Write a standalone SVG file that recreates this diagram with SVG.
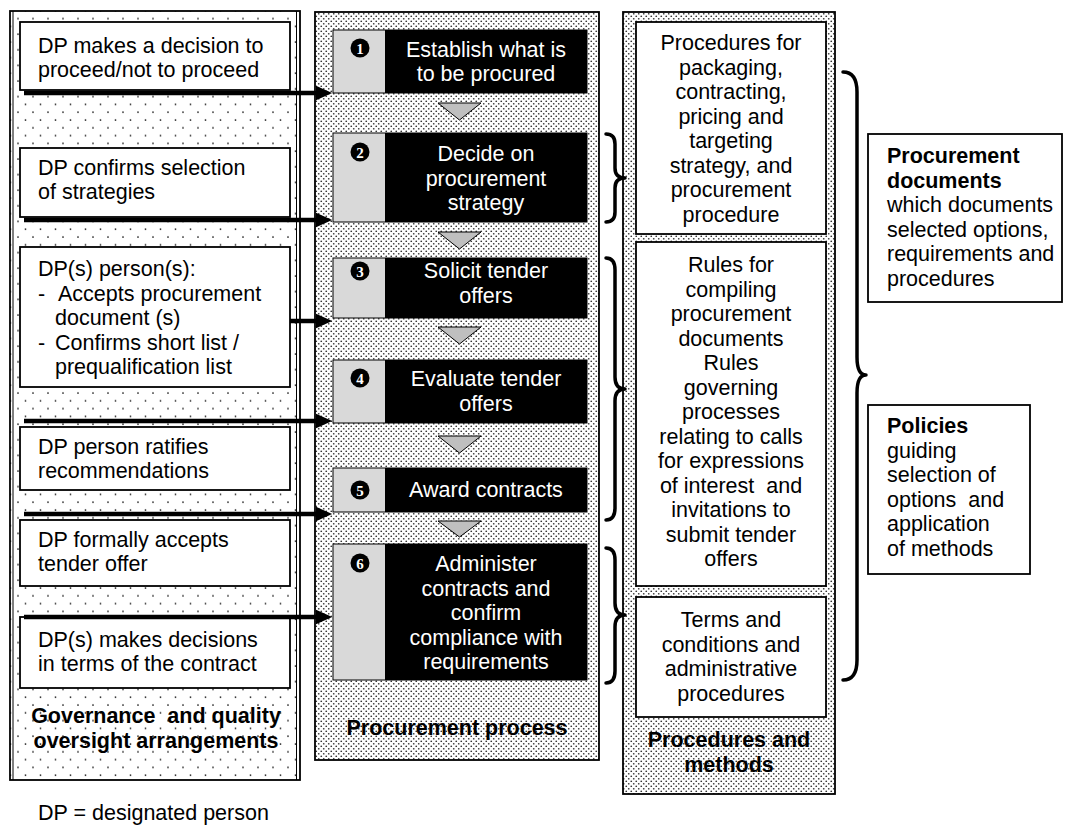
<svg xmlns="http://www.w3.org/2000/svg" width="1072" height="826" viewBox="0 0 1072 826">
<defs>
<pattern id="sparse" width="15" height="15.6" patternUnits="userSpaceOnUse">
<rect width="15" height="15.6" fill="#fff"/>
<circle cx="3" cy="3" r="0.9" fill="#222"/>
<circle cx="10.5" cy="10.8" r="0.9" fill="#222"/>
</pattern>
<pattern id="dense" width="5" height="5" patternUnits="userSpaceOnUse">
<rect width="5" height="5" fill="#fff"/>
<circle cx="1.25" cy="1.25" r="0.85" fill="#333"/>
<circle cx="3.75" cy="3.75" r="0.85" fill="#333"/>
</pattern>
<marker id="ah" markerWidth="4" markerHeight="4" refX="0" refY="2" orient="auto" markerUnits="strokeWidth">
<path d="M0,0.4 L3.6,2 L0,3.6 Z" fill="#000"/>
</marker>
</defs>
<style>
text{font-family:"Liberation Sans",Arial,sans-serif;font-size:21.5px;fill:#000}
.w{fill:#fff}
.b{font-weight:bold}
.c{text-anchor:middle}
.pre{white-space:pre}
.box{fill:#fff;stroke:#000;stroke-width:1.8}
.panel{stroke:#000;stroke-width:1.8}
.step{fill:#000;stroke:#000;stroke-width:1}
.grey{fill:#d9d9d9}
.tri{fill:#bfbfbf;stroke:#000;stroke-width:1}
.num{fill:#000}
.nt{font-family:"Liberation Serif",serif;font-weight:bold;font-size:15px;fill:#fff;text-anchor:middle}
.arr{stroke:#000;stroke-width:4.5;fill:none}
.brace{stroke:#000;stroke-width:3.5;fill:none;stroke-linecap:round;stroke-linejoin:round}
</style>

<g id="panel-governance">
<rect class="panel" x="10" y="11" width="290" height="769" fill="url(#sparse)"/>
<line x1="13" y1="11" x2="13" y2="780" stroke="#000" stroke-width="1"/>
<line x1="296.5" y1="11" x2="296.5" y2="780" stroke="#000" stroke-width="1"/>
<text class="b c pre" x="156" y="723">Governance  and quality</text>
<text class="b c" x="156" y="748">oversight arrangements</text>
</g>
<g id="panel-process">
<rect class="panel" x="315" y="12" width="284" height="748" fill="url(#dense)"/>
<text class="b c" x="457" y="735">Procurement process</text>
</g>
<g id="panel-methods">
<rect class="panel" x="623" y="12" width="212" height="782" fill="url(#dense)"/>
<text class="b c" x="729" y="747">Procedures and</text>
<text class="b c" x="729" y="772">methods</text>
</g>

<g id="gov-a">
<rect class="box" x="20" y="22" width="270" height="68"/>
<text x="38" y="53">DP makes a decision to</text>
<text x="38" y="77">proceed/not to proceed</text>
</g>
<g id="gov-b">
<rect class="box" x="20" y="148" width="270" height="69"/>
<text x="38" y="175">DP confirms selection</text>
<text x="38" y="199">of strategies</text>
</g>
<g id="gov-c">
<rect class="box" x="20" y="247" width="270" height="140"/>
<text x="38" y="276">DP(s) person(s):</text>
<text y="300.5"><tspan x="38">-</tspan><tspan x="58">Accepts procurement</tspan></text>
<text x="55" y="325">document (s)</text>
<text y="349.5"><tspan x="38">-</tspan><tspan x="55">Confirms short list /</tspan></text>
<text x="55" y="374">prequalification list</text>
</g>
<g id="gov-d">
<rect class="box" x="20" y="427" width="270" height="63"/>
<text x="38" y="454">DP person ratifies</text>
<text x="38" y="478">recommendations</text>
</g>
<g id="gov-e">
<rect class="box" x="20" y="520" width="270" height="66"/>
<text x="38" y="547">DP formally accepts</text>
<text x="38" y="571">tender offer</text>
</g>
<g id="gov-f">
<rect class="box" x="20" y="617" width="270" height="71"/>
<text x="38" y="647">DP(s) makes decisions</text>
<text x="38" y="671">in terms of the contract</text>
</g>

<g id="step-1">
<rect class="step" x="333" y="30" width="254" height="63"/>
<rect class="grey" x="333.5" y="30.5" width="51.5" height="62"/>
<circle class="num" cx="360" cy="48" r="9.5"/><text class="nt" x="360" y="53.5">1</text>
<text class="w c" x="486" y="57">Establish what is</text>
<text class="w c" x="486" y="81">to be procured</text>
</g>
<g id="step-2">
<rect class="step" x="333" y="133" width="254" height="89"/>
<rect class="grey" x="333.5" y="133.5" width="51.5" height="88"/>
<circle class="num" cx="360" cy="152" r="9.5"/><text class="nt" x="360" y="157.5">2</text>
<text class="w c" x="486" y="161">Decide on</text>
<text class="w c" x="486" y="185.5">procurement</text>
<text class="w c" x="486" y="210">strategy</text>
</g>
<g id="step-3">
<rect class="step" x="333" y="258" width="254" height="60"/>
<rect class="grey" x="333.5" y="258.5" width="51.5" height="59"/>
<circle class="num" cx="360" cy="271" r="9.5"/><text class="nt" x="360" y="276.5">3</text>
<text class="w c" x="486" y="278">Solicit tender</text>
<text class="w c" x="486" y="302.5">offers</text>
</g>
<g id="step-4">
<rect class="step" x="333" y="360" width="254" height="63"/>
<rect class="grey" x="333.5" y="360.5" width="51.5" height="62"/>
<circle class="num" cx="360" cy="378" r="9.5"/><text class="nt" x="360" y="383.5">4</text>
<text class="w c" x="486" y="386">Evaluate tender</text>
<text class="w c" x="486" y="410.5">offers</text>
</g>
<g id="step-5">
<rect class="step" x="333" y="468" width="254" height="44"/>
<rect class="grey" x="333.5" y="468.5" width="51.5" height="43"/>
<circle class="num" cx="360" cy="490" r="9.5"/><text class="nt" x="360" y="495.5">5</text>
<text class="w c" x="486" y="497">Award contracts</text>
</g>
<g id="step-6">
<rect class="step" x="333" y="544" width="254" height="136"/>
<rect class="grey" x="333.5" y="544.5" width="51.5" height="135"/>
<circle class="num" cx="360" cy="563" r="9.5"/><text class="nt" x="360" y="568.5">6</text>
<text class="w c" x="486" y="571">Administer</text>
<text class="w c" x="486" y="595.5">contracts and</text>
<text class="w c" x="486" y="620">confirm</text>
<text class="w c" x="486" y="644.5">compliance with</text>
<text class="w c" x="486" y="669">requirements</text>
</g>

<g id="method-1">
<rect class="box" x="636" y="22" width="190" height="212"/>
<text class="c" x="731" y="50">Procedures for</text>
<text class="c" x="731" y="74.5">packaging,</text>
<text class="c" x="731" y="99">contracting,</text>
<text class="c" x="731" y="123.5">pricing and</text>
<text class="c" x="731" y="148">targeting</text>
<text class="c" x="731" y="172.5">strategy, and</text>
<text class="c" x="731" y="197">procurement</text>
<text class="c" x="731" y="221.5">procedure</text>
</g>
<g id="method-2">
<rect class="box" x="636" y="242" width="190" height="344"/>
<text class="c" x="731" y="272">Rules for</text>
<text class="c" x="731" y="296.5">compiling</text>
<text class="c" x="731" y="321">procurement</text>
<text class="c" x="731" y="345.5">documents</text>
<text class="c" x="731" y="370">Rules</text>
<text class="c" x="731" y="394.5">governing</text>
<text class="c" x="731" y="419">processes</text>
<text class="c" x="731" y="443.5">relating to calls</text>
<text class="c" x="731" y="468">for expressions</text>
<text class="c pre" x="731" y="492.5">of interest  and</text>
<text class="c" x="731" y="517">invitations to</text>
<text class="c" x="731" y="541.5">submit tender</text>
<text class="c" x="731" y="566">offers</text>
</g>
<g id="method-3">
<rect class="box" x="636" y="597" width="190" height="120"/>
<text class="c" x="731" y="627">Terms and</text>
<text class="c" x="731" y="651.5">conditions and</text>
<text class="c" x="731" y="676">administrative</text>
<text class="c" x="731" y="700.5">procedures</text>
</g>

<g id="documents">
<rect class="box" x="868" y="134" width="194" height="168"/>
<text class="b" x="887" y="163">Procurement</text>
<text class="b" x="887" y="187.5">documents</text>
<text x="887" y="212">which documents</text>
<text x="887" y="236.5">selected options,</text>
<text x="887" y="261">requirements and</text>
<text x="887" y="285.5">procedures</text>
</g>
<g id="policies">
<rect class="box" x="868" y="405" width="162" height="169"/>
<text class="b" x="887" y="433">Policies</text>
<text x="887" y="457.5">guiding</text>
<text x="887" y="482">selection of</text>
<text class="pre" x="887" y="506.5">options  and</text>
<text x="887" y="531">application</text>
<text x="887" y="555.5">of methods</text>
</g>

<g id="connectors">
<polygon class="tri" points="438,103 481,103 459.5,120"/>
<polygon class="tri" points="438,232 481,232 459.5,249"/>
<polygon class="tri" points="438,327 481,327 459.5,344"/>
<polygon class="tri" points="438,436 481,436 459.5,453"/>
<polygon class="tri" points="438,521 481,521 459.5,537"/>
<line class="arr" x1="24" y1="93" x2="316" y2="93" marker-end="url(#ah)"/>
<line class="arr" x1="24" y1="220" x2="316" y2="220" marker-end="url(#ah)"/>
<line class="arr" x1="290" y1="321" x2="316" y2="321" marker-end="url(#ah)"/>
<line class="arr" x1="24" y1="421" x2="316" y2="421" marker-end="url(#ah)"/>
<line class="arr" x1="24" y1="514" x2="316" y2="514" marker-end="url(#ah)"/>
<line class="arr" x1="24" y1="617" x2="316" y2="617" marker-end="url(#ah)"/>
<path class="brace" d="M606,134 Q615,134 615,144 L615,168 Q615,178 625,178 Q615,178 615,188 L615,212 Q615,222 606,222"/>
<path class="brace" d="M606,258 Q615,258 615,270 L615,377 Q615,389 625,389 Q615,389 615,401 L615,508 Q615,520 606,520"/>
<path class="brace" d="M606,548 Q615,548 615,560 L615,603 Q615,615 625,615 Q615,615 615,627 L615,671 Q615,683 606,683"/>
<path class="brace" stroke-width="5" d="M843,72 Q857,72 857,92 L857,357 Q857,375 866,375 Q857,375 857,393 L857,660 Q857,680 843,680"/>
</g>

<text id="legend" x="38" y="820">DP = designated person</text>
</svg>
